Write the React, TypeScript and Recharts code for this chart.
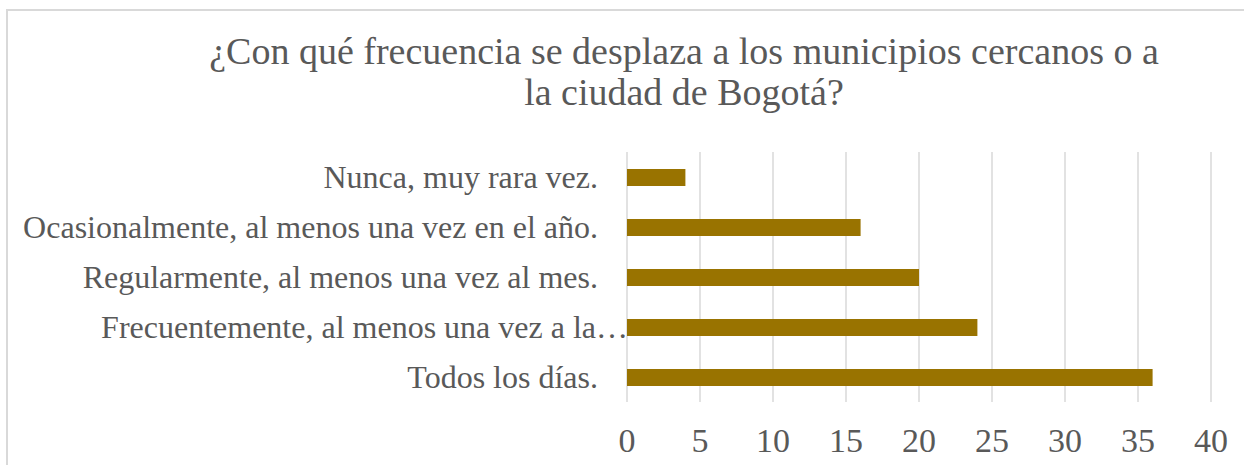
import React from 'react';
import { BarChart, Bar, XAxis, YAxis, CartesianGrid } from 'recharts';

const categories = [
  'Nunca, muy rara vez.',
  'Ocasionalmente, al menos una vez en el año.',
  'Regularmente, al menos una vez al mes.',
  'Frecuentemente, al menos una vez a la…',
  'Todos los días.',
];
const values = [4, 16, 20, 24, 36];
const xTicks = [0, 5, 10, 15, 20, 25, 30, 35, 40];
const titleLines = [
  '¿Con qué frecuencia se desplaza a los municipios cercanos o a',
  'la ciudad de Bogotá?',
];

const data = categories.map((c, i) => ({ name: c, value: values[i] }));

const FONT = '"Liberation Serif", "Times New Roman", serif';
const TEXT = '#595959';

const CategoryTick = (props: any) => {
  const { x, y, payload } = props;
  const label: string = payload.value;
  const truncated = label.endsWith('…');
  return (
    <text
      x={truncated ? x + 30 : x}
      y={y}
      dy="0.355em"
      textAnchor="end"
      fontFamily={FONT}
      fontSize={32}
      fill={TEXT}
    >
      {label}
    </text>
  );
};

export default function App() {
  return (
    <div
      style={{
        position: 'absolute',
        left: 0,
        top: 0,
        width: 1244,
        height: 465,
        overflow: 'hidden',
        background: '#fff',
      }}
    >
      <div
        style={{
          position: 'absolute',
          left: 6,
          top: 9,
          width: 1400,
          height: 600,
          border: '2px solid #d9d9d9',
          boxSizing: 'border-box',
        }}
      />
      <div
        style={{
          position: 'absolute',
          left: 184,
          top: 31,
          width: 1000,
          textAlign: 'center',
          fontFamily: FONT,
          fontSize: 38,
          lineHeight: '41px',
          color: TEXT,
          whiteSpace: 'nowrap',
        }}
      >
        {titleLines.map((t) => (
          <div key={t}>{t}</div>
        ))}
      </div>
      <div style={{ position: 'absolute', left: 0, top: 0 }}>
        <BarChart
          width={1244}
          height={465}
          data={data}
          layout="vertical"
          margin={{ top: 152, right: 33, bottom: 0, left: 0 }}
        >
          <CartesianGrid horizontal={false} stroke="#d9d9d9" strokeWidth={1.5} />
          <XAxis
            type="number"
            domain={[0, 40]}
            ticks={xTicks}
            axisLine={false}
            tickLine={false}
            tickSize={0}
            tickMargin={26}
            height={63}
            tick={{ fontSize: 34, fill: TEXT, fontFamily: FONT }}
            interval={0}
          />
          <YAxis
            type="category"
            dataKey="name"
            width={627}
            axisLine={false}
            tickLine={false}
            tickSize={0}
            tickMargin={29}
            interval={0}
            tick={<CategoryTick />}
          />
          <Bar dataKey="value" fill="#997300" barSize={17} isAnimationActive={false} />
        </BarChart>
      </div>
    </div>
  );
}
